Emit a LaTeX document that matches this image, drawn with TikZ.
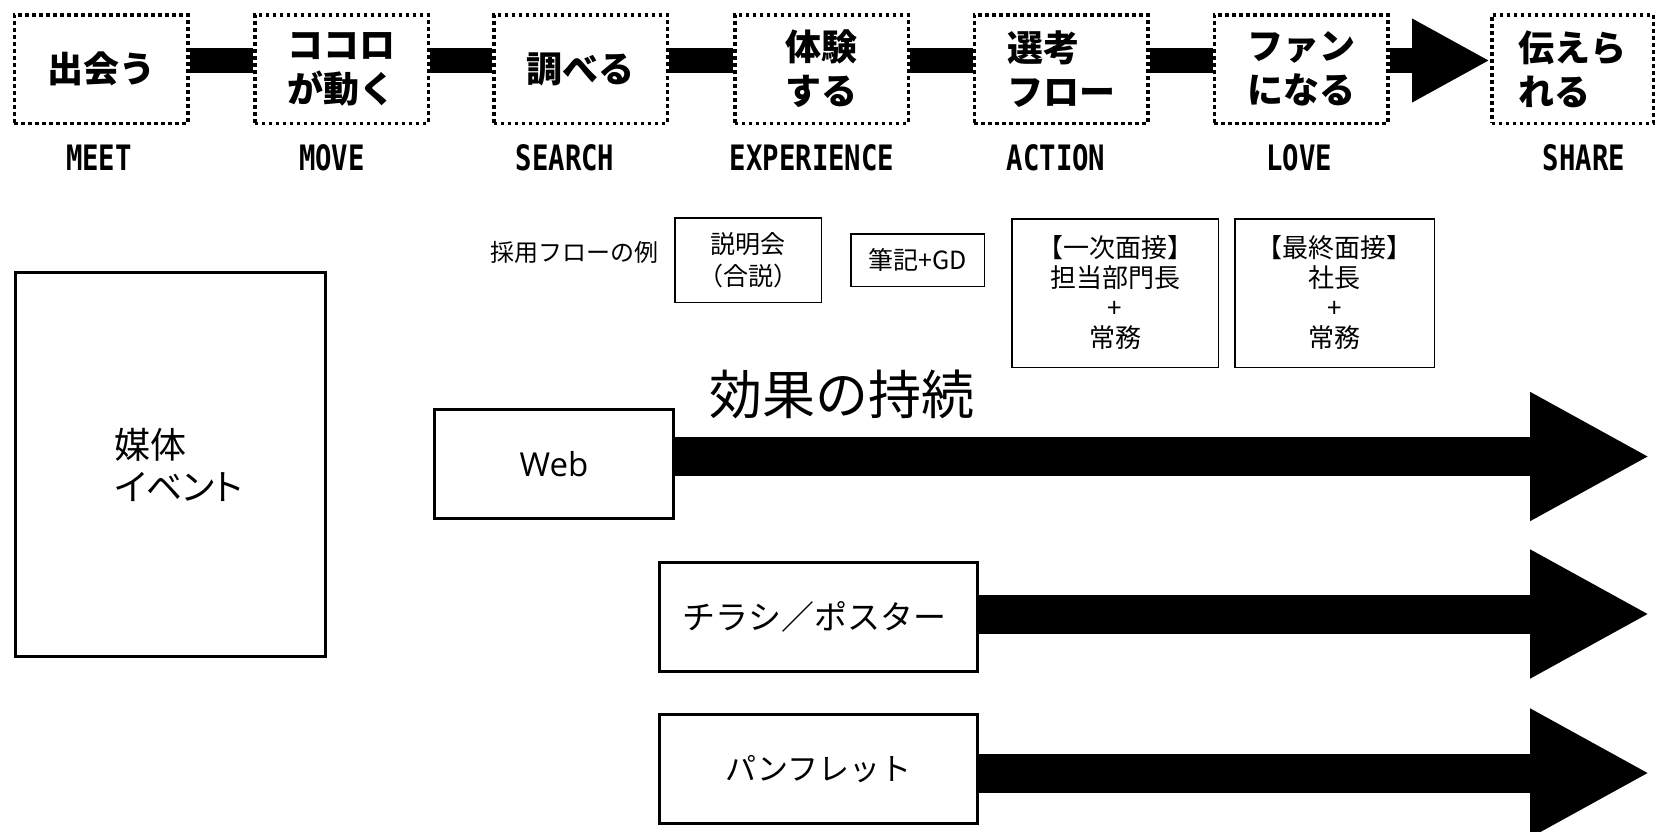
\documentclass[tikz,border=0pt]{standalone}
\usepackage{fontspec}
\usetikzlibrary{arrows.meta,calc}
\newfontfamily\jp{Noto Sans CJK JP}
\newfontfamily\jpp{Noto Sans CJK JP}[RawFeature=+palt]
\newfontfamily\lbl{DejaVu Sans Mono}[FakeStretch=0.78]
\newfontfamily\websf{Open Sans}
\tikzset{
  stage/.style={draw, line width=3.5pt, dash pattern=on 3.5pt off 3.5pt,
    minimum width=173.5pt, minimum height=108.5pt, inner sep=0pt, align=left,
    font=\jp\bfseries\fontsize{36pt}{44pt}\selectfont},
  phase/.style={font=\lbl\bfseries\fontsize{35pt}{40pt}\selectfont, inner sep=0pt},
  bar/.style={line width=25pt},
  flowbox/.style={draw, line width=1.5pt, inner sep=0pt, align=center,
    font=\jp\fontsize{25pt}{30pt}\selectfont},
  media/.style={draw, line width=2.8pt, inner sep=0pt},
  bigarrow/.style={line width=39pt, -{Triangle[length=120pt,width=120pt]}},
}
\begin{document}
\begin{tikzpicture}[x=1pt,y=-1pt]
\useasboundingbox[fill=white] (0,0) rectangle (1658,831);
% top stages
\node[stage] (b1) at (101,69) {出会う};
\node[stage] (b2) at (341.5,69) {ココロ\\が動く};
\node[stage] (b3) at (580.5,69) {調べる};
\node[stage] (b4) at (821.5,69) {体験\\する};
\node[stage] (b5) at (1061,69) {選考\\フロー};
\node[stage] (b6) at (1301,69) {ファン\\になる};
\node[stage, minimum width=161.5pt] (b7) at (1572.5,69) {伝えら\\れる};
\draw[bar] ([yshift=8.5pt]b1.east) -- ([yshift=8.5pt]b2.west);
\draw[bar] ([yshift=8.5pt]b2.east) -- ([yshift=8.5pt]b3.west);
\draw[bar] ([yshift=8.5pt]b3.east) -- ([yshift=8.5pt]b4.west);
\draw[bar] ([yshift=8.5pt]b4.east) -- ([yshift=8.5pt]b5.west);
\draw[bar] ([yshift=8.5pt]b5.east) -- ([yshift=8.5pt]b6.west);
\draw[bar, -{Triangle[length=78pt,width=78pt]}] ([yshift=8.5pt]b6.east) -- ([yshift=8.5pt]b7.west);
% phase labels
\node[phase] (l1) at (99,157.5) {MEET};
\node[phase] (l2) at (332,157.5) {MOVE};
\node[phase] (l3) at (565,157.5) {SEARCH};
\node[phase] (l4) at (812,157.5) {EXPERIENCE};
\node[phase] (l5) at (1056,157.5) {ACTION};
\node[phase] (l6) at (1299,157.5) {LOVE};
\node[phase] (l7) at (1584,157.5) {SHARE};
% recruiting flow example
\node[font=\jp\fontsize{24pt}{28pt}\selectfont, inner sep=0pt] (ex) at (574.5,252) {採用フローの例};
\node[flowbox, minimum width=146.5pt, minimum height=84.5pt, font=\jp\fontsize{25pt}{32pt}\selectfont] (f1) at (748,260) {説明会\\（合説）};
\node[flowbox, minimum width=133.5pt, minimum height=52.5pt] (f2) at (917.5,260) {筆記+GD};
\node[flowbox, minimum width=206.5pt, minimum height=148.5pt, font=\jp\fontsize{26pt}{30pt}\selectfont] (f3) at (1115,293) {【一次面接】\\担当部門長\\+\\常務};
\node[flowbox, minimum width=199.5pt, minimum height=148.5pt, font=\jp\fontsize{26pt}{30pt}\selectfont] (f4) at (1334.5,293) {【最終面接】\\社長\\+\\常務};
% media
\node[media, minimum width=310pt, minimum height=384pt, align=left, font=\jpp\fontsize{36pt}{42pt}\selectfont] (m) at (170.5,464.5) {\hspace*{16pt}媒体\\\hspace*{16pt}イベント};
\node[media, minimum width=239pt, minimum height=109pt, font=\websf\fontsize{33pt}{38pt}\selectfont] (web) at (554,464) {Web};
\node[inner sep=0pt, font=\jp\fontsize{53pt}{60pt}\selectfont] (title) at (842,394) {効果の持続};
\node[media, minimum width=318pt, minimum height=109pt, font=\jp\fontsize{33pt}{36pt}\selectfont] (fly) at (818.5,617) {チラシ／ポスター\hspace*{8pt}};
\node[media, minimum width=318pt, minimum height=109pt, font=\jp\fontsize{31pt}{36pt}\selectfont] (pam) at (818.5,769) {パンフレット};
\coordinate (tW) at (1650,456.5);
\coordinate (tF) at (1650,614);
\coordinate (tP) at (1650,773);
\draw[bigarrow] (web.east |- tW) -- (tW);
\draw[bigarrow] (fly.east |- tF) -- (tF);
\draw[bigarrow] (pam.east |- tP) -- (tP);
\end{tikzpicture}
\end{document}
